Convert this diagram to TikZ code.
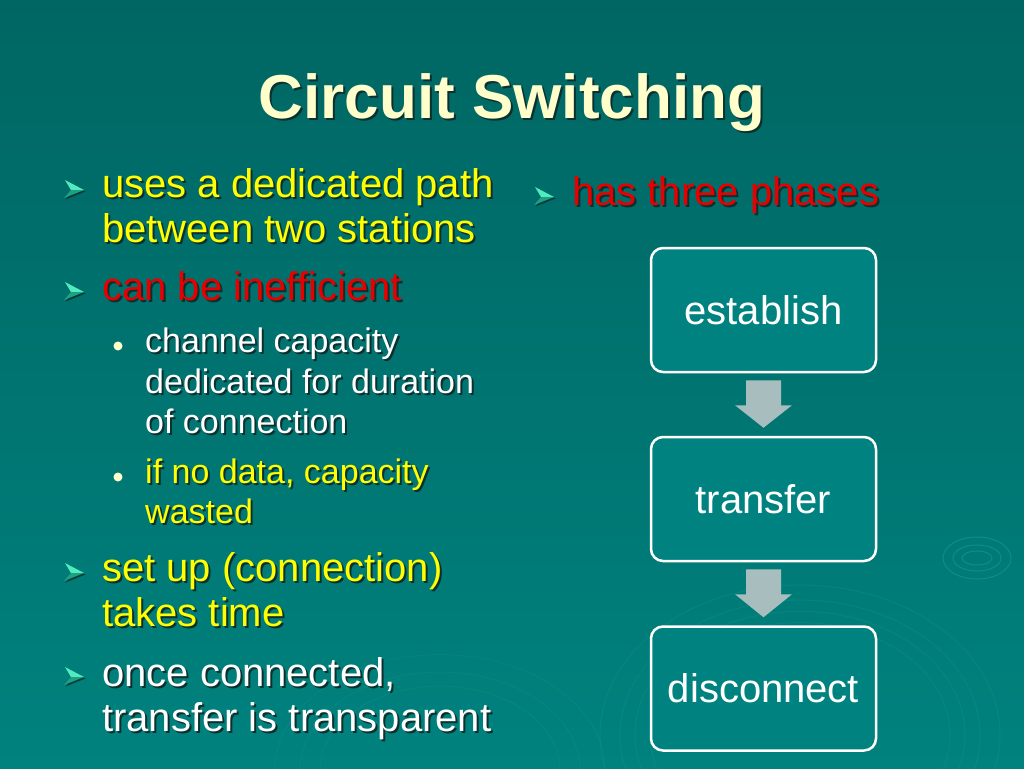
\documentclass[tikz,border=0pt]{standalone}
\usepackage{fontspec}
\setmainfont{Liberation Sans}
\definecolor{bgtop}{RGB}{0,102,99}
\definecolor{bgbot}{RGB}{0,130,126}
\definecolor{boxc}{RGB}{0,130,128}
\definecolor{arrc}{RGB}{168,190,190}
\definecolor{ylw}{RGB}{255,255,0}
\definecolor{rd}{RGB}{232,0,0}
\definecolor{cream}{RGB}{255,255,204}
\definecolor{shd}{RGB}{12,48,46}
\definecolor{blt}{RGB}{80,235,190}
\definecolor{bltd}{RGB}{30,160,130}
\definecolor{ripple}{RGB}{60,170,165}
\tikzset{
  txt/.style={anchor=base west, inner sep=0pt},
  phasebox/.style={draw=white, line width=2.5pt, rounded corners=12pt, fill=boxc,
    minimum width=225pt, minimum height=124pt, text=white, inner sep=0pt,
    font=\fontsize{40}{44}\selectfont},
  flowarrow/.style={fill=arrc},
  rip/.style={draw=ripple, line width=1pt, opacity=0.35}
}
\newcommand\Txt[6]{%
  \node[txt, text=shd, font=\fontsize{#4}{#4}\selectfont] (#1s) at (#2+2,#3+2) {#6};
  \node[txt, text=#5, font=\fontsize{#4}{#4}\selectfont] (#1) at (#2,#3) {#6};}
\newcommand\Blt[3]{% name, tip x, tip y
  \coordinate (#1) at (#2,#3);
  \begin{scope}[shift={(#1)}]
    \fill[shd, opacity=0.8] (1.5,1.5) -- (-17.5,-8.5) -- (-11.5,1.5) -- (-18.5,9.5) -- cycle;
    \fill[blt] (0,0) -- (-19,-10) -- (-13,0) -- cycle;
    \fill[bltd] (0,0) -- (-13,0) -- (-20,8) -- cycle;
  \end{scope}}
\newcommand\Dot[3]{%
  \node[circle, inner sep=0pt, minimum size=9pt, fill=cream] (#1) at (#2,#3) {};}
\begin{document}
\begin{tikzpicture}[x=1pt,y=-1pt]
\useasboundingbox (0,0) rectangle (1024,768);
\fill[top color=bgtop, bottom color=bgbot] (0,0) rectangle (1024,768);
% ripples
\begin{scope}
\clip (0,0) rectangle (1024,768);
\foreach \r/\s in {15/7,24/13,34/21} \draw[rip] (977,558) ellipse ({\r} and {\s});
\foreach \r in {150,165,180,200} \draw[rip, opacity=0.15] (800,735) ellipse ({\r} and {\r*0.75});
\foreach \r in {120,140,165} \draw[rip, opacity=0.12] (440,770) ellipse ({\r} and {\r*0.7});
\end{scope}
% title
\node[anchor=base, inner sep=0pt, text=shd, font=\bfseries\fontsize{62}{62}\selectfont] (titles) at (514,120) {Circuit Switching};
\node[anchor=base, inner sep=0pt, text=cream, font=\bfseries\fontsize{62}{62}\selectfont] (title) at (512,118) {Circuit Switching};
% left bullets
\Blt{b1}{84}{190}
\Txt{l1}{102}{197}{40}{ylw}{uses a dedicated path}
\Txt{l2}{102}{242}{40}{ylw}{between two stations}
\Blt{b2}{84}{292}
\Txt{l3}{102}{300}{40}{rd}{can be inefficient}
\Dot{d1}{118}{346}
\Txt{l4}{145}{352}{34}{white}{channel capacity}
\Txt{l5}{145}{393}{34}{white}{dedicated for duration}
\Txt{l6}{145}{433}{34}{white}{of connection}
\Dot{d2}{118}{477}
\Txt{l7}{145}{483}{34}{ylw}{if no data, capacity}
\Txt{l8}{145}{523}{34}{ylw}{wasted}
\Blt{b3}{84}{573}
\Txt{l9}{102}{581}{40}{ylw}{set up (connection)}
\Txt{l10}{102}{626}{40}{ylw}{takes time}
\Blt{b4}{84}{677}
\Txt{l11}{102}{686}{40}{white}{once connected,}
\Txt{l12}{102}{731}{40}{white}{transfer is transparent}
% right bullet
\Blt{b5}{554}{197}
\Txt{r1}{572}{205}{40}{rd}{has three phases}
% phase boxes
\node[phasebox] (est) at (763.5,310) {establish};
\node[phasebox] (tra) at (763.5,499) {transfer};
\node[phasebox] (dis) at (763.5,688.5) {disconnect};
% block arrows
\fill[flowarrow] ([xshift=-17.5pt,yshift=-7pt]est.south) -- ([xshift=17.5pt,yshift=-7pt]est.south)
  -- ([xshift=17.5pt,yshift=-32pt]est.south) -- ([xshift=28.5pt,yshift=-32pt]est.south)
  -- ([yshift=8pt]tra.north) -- ([xshift=-28.5pt,yshift=-32pt]est.south)
  -- ([xshift=-17.5pt,yshift=-32pt]est.south) -- cycle;
\fill[flowarrow] ([xshift=-17.5pt,yshift=-7pt]tra.south) -- ([xshift=17.5pt,yshift=-7pt]tra.south)
  -- ([xshift=17.5pt,yshift=-32pt]tra.south) -- ([xshift=28.5pt,yshift=-32pt]tra.south)
  -- ([yshift=8pt]dis.north) -- ([xshift=-28.5pt,yshift=-32pt]tra.south)
  -- ([xshift=-17.5pt,yshift=-32pt]tra.south) -- cycle;
\end{tikzpicture}
\end{document}
